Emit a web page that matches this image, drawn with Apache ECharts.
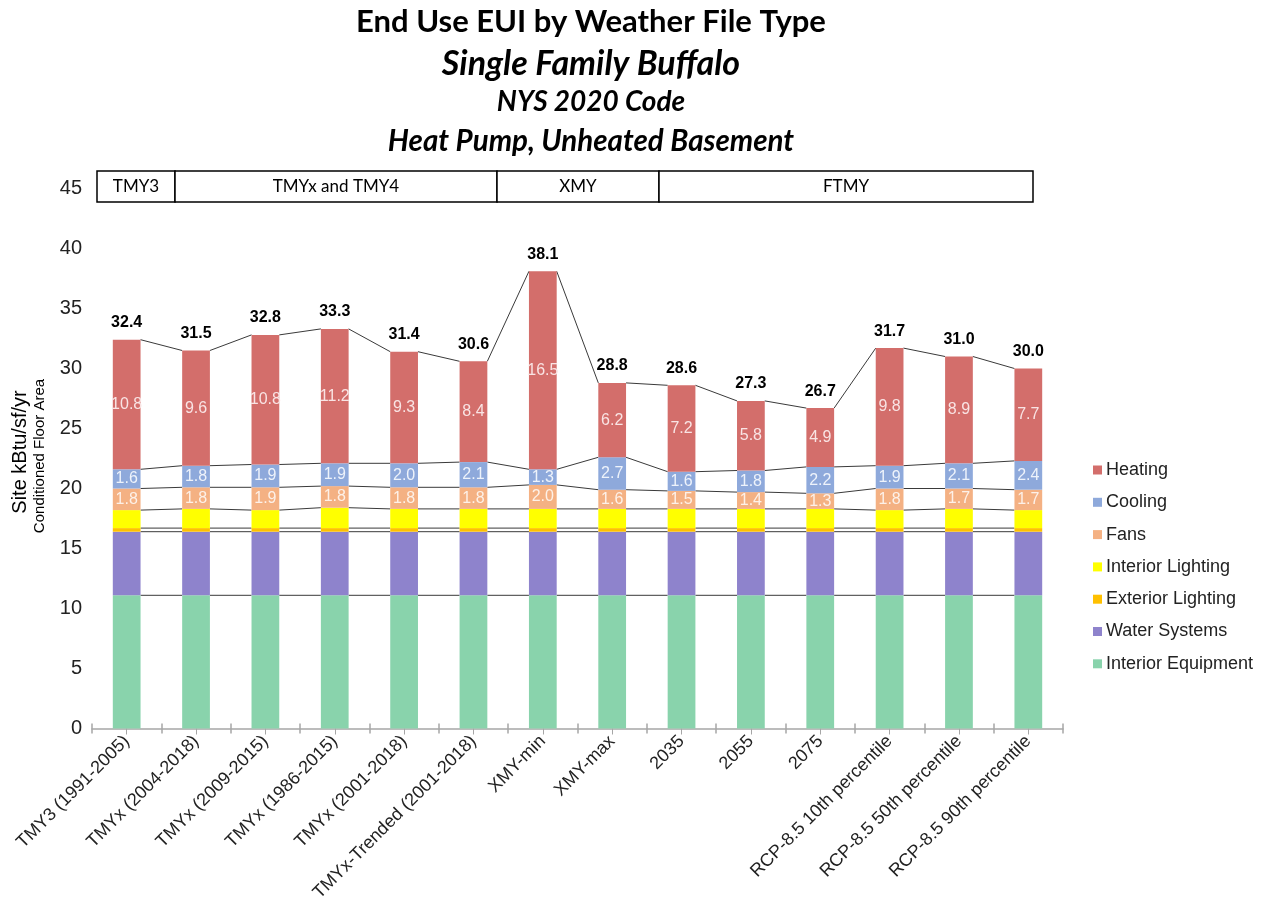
<!DOCTYPE html>
<html>
<head>
<meta charset="utf-8">
<title>End Use EUI by Weather File Type</title>
<script src="https://cdn.jsdelivr.net/npm/echarts@6/dist/echarts.min.js"></script>
<style>
  html, body { margin: 0; padding: 0; background: #ffffff; }
  #chart { width: 1273px; height: 918px; }
</style>
</head>
<body>
<div id="chart"></div>
<script>
// Weather file cases along the x axis
const categories = [
  'TMY3 (1991-2005)', 'TMYx (2004-2018)', 'TMYx (2009-2015)', 'TMYx (1986-2015)',
  'TMYx (2001-2018)', 'TMYx-Trended (2001-2018)', 'XMY-min', 'XMY-max',
  '2035', '2055', '2075',
  'RCP-8.5 10th percentile', 'RCP-8.5 50th percentile', 'RCP-8.5 90th percentile'
];

// End-use EUI, kBtu/sf/yr (stack order bottom to top)
const interiorEquipment = [11.1, 11.1, 11.1, 11.1, 11.1, 11.1, 11.1, 11.1, 11.1, 11.1, 11.1, 11.1, 11.1, 11.1];
const waterSystems      = [5.3, 5.3, 5.3, 5.3, 5.3, 5.3, 5.3, 5.3, 5.3, 5.3, 5.3, 5.3, 5.3, 5.3];
const exteriorLighting  = [0.3, 0.3, 0.3, 0.3, 0.3, 0.3, 0.3, 0.3, 0.3, 0.3, 0.3, 0.3, 0.3, 0.3];
const interiorLighting  = [1.5, 1.6, 1.5, 1.7, 1.6, 1.6, 1.6, 1.6, 1.6, 1.6, 1.6, 1.5, 1.6, 1.5];
const fans              = [1.8, 1.8, 1.9, 1.8, 1.8, 1.8, 2.0, 1.6, 1.5, 1.4, 1.3, 1.8, 1.7, 1.7];
const cooling           = [1.6, 1.8, 1.9, 1.9, 2.0, 2.1, 1.3, 2.7, 1.6, 1.8, 2.2, 1.9, 2.1, 2.4];
const heating           = [10.8, 9.6, 10.8, 11.2, 9.3, 8.4, 16.5, 6.2, 7.2, 5.8, 4.9, 9.8, 8.9, 7.7];

// Weather file families shown in the header row
const groupHeaders = ['TMY3', 'TMYx and TMY4', 'XMY', 'FTMY'];

const titleLines = [
  'End Use EUI by Weather File Type',
  'Single Family Buffalo',
  'NYS 2020 Code',
  'Heat Pump, Unheated Basement'
];

const yAxisTitle = 'Site kBtu/sf/yr';
const yAxisSubtitle = 'Conditioned Floor Area';

const seriesDefs = [
  { name: 'Interior Equipment', data: interiorEquipment, color: '#89D3AC', label: false },
  { name: 'Water Systems',      data: waterSystems,      color: '#8E83CC', label: false },
  { name: 'Exterior Lighting',  data: exteriorLighting,  color: '#FFC000', label: false },
  { name: 'Interior Lighting',  data: interiorLighting,  color: '#FFFF00', label: false },
  { name: 'Fans',               data: fans,              color: '#F4B183', label: '#fdf1e8' },
  { name: 'Cooling',            data: cooling,           color: '#8EA9DB', label: '#eef3fb' },
  { name: 'Heating',            data: heating,           color: '#D36E6B', label: '#f9e4e4' }
];

// cumulative stack tops, one row per series
const stackTops = [];
seriesDefs.forEach((s, k) => {
  stackTops.push(s.data.map((v, i) => (k === 0 ? 0 : stackTops[k - 1][i]) + v));
});
const totals = stackTops[stackTops.length - 1];

const BAR_FRACTION = 0.4;
const FONT = "'Liberation Sans', Arial, sans-serif";
const TITLE_FONT = "Lato, 'Open Sans', sans-serif";

const chart = echarts.init(document.getElementById('chart'), null, { renderer: 'canvas' });

const barSeries = seriesDefs.map(s => ({
  name: s.name,
  type: 'bar',
  stack: 'eui',
  barWidth: (BAR_FRACTION * 100) + '%',
  data: s.data,
  itemStyle: { color: s.color },
  label: s.label ? {
    show: true,
    position: 'inside',
    color: s.label,
    fontFamily: FONT,
    fontSize: 16,
    formatter: p => p.value.toFixed(1)
  } : { show: false },
  emphasis: { disabled: true },
  z: 3
}));

// thin connector lines between the stack boundaries of neighbouring bars
const connectorSeries = {
  type: 'custom',
  name: 'connectors',
  silent: true,
  z: 2,
  data: categories.slice(0, -1).map((c, i) => [i, 0]),
  encode: { x: 0, y: 1 },
  renderItem: (params, api) => {
    const i = api.value(0);
    const halfBar = api.size([1, 0])[0] * BAR_FRACTION / 2;
    const children = stackTops.map(row => {
      const a = api.coord([i, row[i]]);
      const b = api.coord([i + 1, row[i + 1]]);
      return {
        type: 'line',
        shape: { x1: a[0] + halfBar, y1: a[1], x2: b[0] - halfBar, y2: b[1] },
        style: { stroke: '#3a3a3a', lineWidth: 1 }
      };
    });
    return { type: 'group', children };
  }
};

// total EUI printed above each bar
const totalSeries = {
  type: 'custom',
  name: 'totals',
  silent: true,
  z: 4,
  data: totals.map((t, i) => [i, t]),
  encode: { x: 0, y: 1 },
  renderItem: (params, api) => {
    const p = api.coord([api.value(0), api.value(1)]);
    return {
      type: 'text',
      x: p[0],
      y: p[1] - 17,
      style: {
        text: api.value(1).toFixed(1),
        fill: '#000000',
        font: "bold 16px 'Liberation Sans', Arial, sans-serif",
        textAlign: 'center',
        textVerticalAlign: 'middle'
      }
    };
  }
};

// header row boxes for weather file families
const headerEdges = [97, 175, 497, 659, 1033];
const headerTop = 171, headerHeight = 31;
const headerGraphics = [];
groupHeaders.forEach((g, k) => {
  const x0 = headerEdges[k], x1 = headerEdges[k + 1];
  headerGraphics.push({
    type: 'rect',
    shape: { x: x0, y: headerTop, width: x1 - x0, height: headerHeight },
    style: { fill: '#ffffff', stroke: '#000000', lineWidth: 1.5 }
  });
  headerGraphics.push({
    type: 'text',
    x: (x0 + x1) / 2,
    y: headerTop + headerHeight / 2,
    style: {
      text: g, fill: '#000000', font: "17px " + TITLE_FONT,
      textAlign: 'center', textVerticalAlign: 'middle'
    }
  });
});

const titleStyles = [
  { y: 22, font: "bold 31px " + TITLE_FONT },
  { y: 64, font: "italic bold 34px " + TITLE_FONT },
  { y: 102, font: "italic bold 28px " + TITLE_FONT },
  { y: 141, font: "italic bold 29.5px " + TITLE_FONT }
];
const titleGraphics = titleLines.map((t, k) => ({
  type: 'text',
  x: 591,
  y: titleStyles[k].y,
  style: {
    text: t, fill: '#000000', font: titleStyles[k].font,
    textAlign: 'center', textVerticalAlign: 'middle'
  }
}));

const axisTitleGraphics = [
  {
    type: 'text', x: 20, y: 452, rotation: Math.PI / 2,
    style: { text: yAxisTitle, fill: '#000000', font: "20px " + FONT, textAlign: 'center', textVerticalAlign: 'middle' }
  },
  {
    type: 'text', x: 40, y: 456, rotation: Math.PI / 2,
    style: { text: yAxisSubtitle, fill: '#000000', font: "15px " + FONT, textAlign: 'center', textVerticalAlign: 'middle' }
  }
];

const axisGray = '#a6a6a6';

chart.setOption({
  animation: false,
  backgroundColor: '#ffffff',
  grid: { left: 92, right: 210, top: 188.5, bottom: 189.5, containLabel: false },
  legend: {
    orient: 'vertical',
    left: 1088,
    top: 455,
    itemWidth: 9,
    itemHeight: 9,
    itemGap: 12.3,
    icon: 'rect',
    selectedMode: false,
    data: seriesDefs.map(s => s.name).reverse(),
    textStyle: { fontFamily: FONT, fontSize: 18, color: '#222222', lineHeight: 20, padding: [0, 0, 0, -1] }
  },
  xAxis: [
    {
      type: 'category',
      data: categories,
      position: 'bottom',
      axisLine: { onZero: false, lineStyle: { color: axisGray, width: 1.5 } },
      axisTick: { show: true, interval: 0, length: 5, lineStyle: { color: axisGray, width: 1.5 } },
      axisLabel: {
        interval: 0, rotate: 45, margin: 10,
        fontFamily: FONT, fontSize: 18, color: '#222222'
      }
    },
    {
      type: 'category',
      data: categories,
      position: 'bottom',
      axisLine: { show: false, onZero: false },
      axisTick: { show: true, inside: true, interval: 0, length: 5, lineStyle: { color: axisGray, width: 1.5 } },
      axisLabel: { show: false }
    },
    {
      type: 'category',
      data: categories,
      position: 'bottom',
      axisLine: { show: false, onZero: false },
      axisTick: { show: true, alignWithLabel: true, interval: 0, length: 6, lineStyle: { color: axisGray, width: 1 } },
      axisLabel: { show: false }
    }
  ],
  yAxis: {
    type: 'value',
    min: 0,
    max: 45,
    interval: 5,
    axisLine: { show: false },
    axisTick: { show: false },
    splitLine: { show: false },
    axisLabel: { fontFamily: FONT, fontSize: 20, color: '#222222', margin: 10 }
  },
  series: [...barSeries, connectorSeries, totalSeries],
  graphic: [...titleGraphics, ...headerGraphics, ...axisTitleGraphics]
});
</script>
</body>
</html>
